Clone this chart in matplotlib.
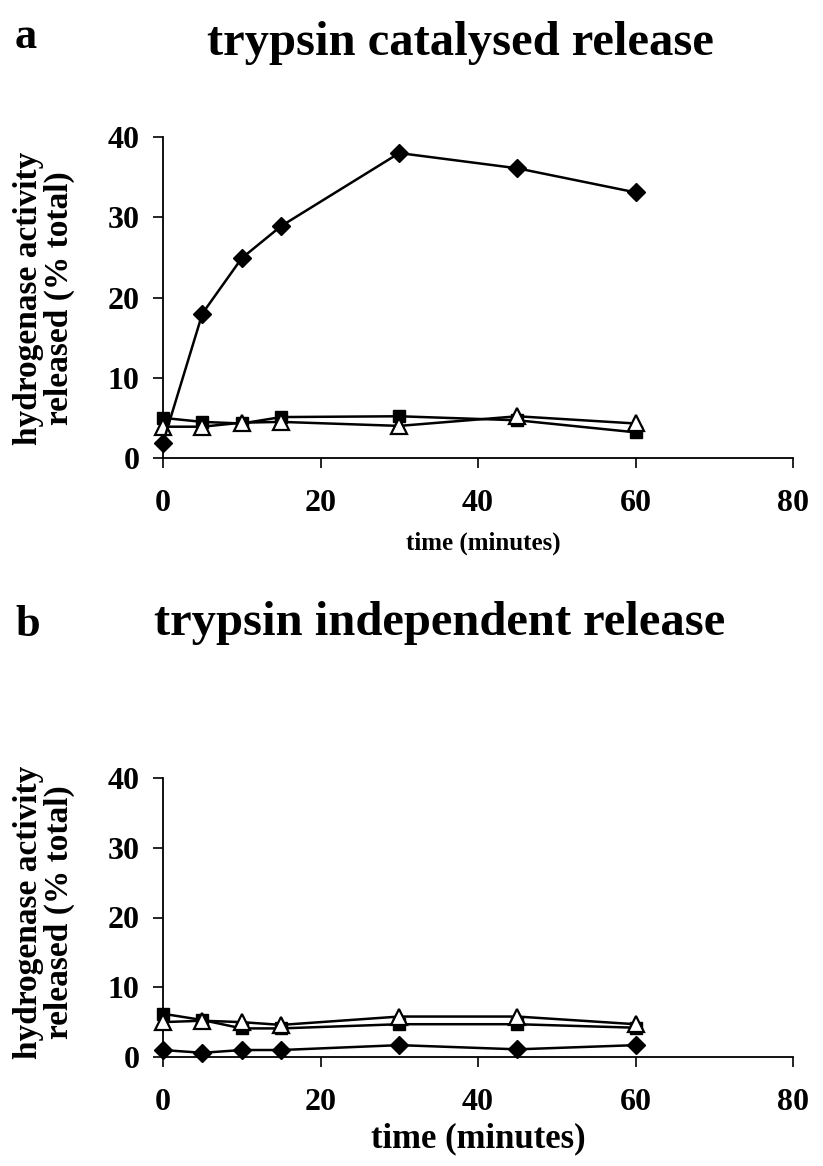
import matplotlib
matplotlib.use("Agg")
import matplotlib.pyplot as plt

plt.rcParams['font.family'] = ['Liberation Serif', 'DejaVu Serif']
plt.rcParams['font.weight'] = 'bold'

time = [0, 5, 10, 15, 30, 45, 60]

# panel a: trypsin catalysed release
a_diamond = [1.9, 18.0, 24.9, 28.9, 38.0, 36.1, 33.1]
a_square = [5.0, 4.5, 4.3, 5.1, 5.2, 4.7, 3.2]
a_triangle = [3.9, 3.9, 4.4, 4.5, 4.0, 5.2, 4.3]

# panel b: trypsin independent release
b_diamond = [1.0, 0.6, 1.0, 1.0, 1.7, 1.1, 1.7]
b_square = [6.2, 5.3, 4.1, 4.1, 4.7, 4.7, 4.2]
b_triangle = [5.0, 5.2, 5.0, 4.6, 5.8, 5.8, 4.7]

x_ticks = [0, 20, 40, 60, 80]
y_ticks = [0, 10, 20, 30, 40]

fig = plt.figure(figsize=(8.23, 11.66), dpi=100)

W, H = 823, 1166
def box(l, t, r, b):
    return [l / W, 1 - b / H, (r - l) / W, (b - t) / H]

ax_a = fig.add_axes(box(163, 137, 793, 458))
ax_b = fig.add_axes(box(163, 778, 793, 1057))

def style(ax, xlabel_size, label_y, label_x):
    for s in ['top', 'right']:
        ax.spines[s].set_visible(False)
    for s in ['left', 'bottom']:
        ax.spines[s].set_linewidth(1.3)
    ax.set_xlim(0, 80)
    ax.set_ylim(0, 40)
    ax.set_xticks(x_ticks)
    ax.set_yticks(y_ticks)
    ax.tick_params(direction='out', length=7, width=1.2, labelsize=23)
    ax.tick_params(axis='x', pad=15)
    ax.tick_params(axis='y', pad=10)
    for lab in ax.get_xticklabels() + ax.get_yticklabels():
        lab.set_fontweight('bold')
    ax.set_xlabel('time (minutes)', fontsize=xlabel_size, fontweight='bold')
    ax.xaxis.set_label_coords(label_x, label_y)

def plot(ax, d, s, t):
    ax.plot(time, s, color='black', lw=1.8, marker='s', ms=8, mfc='black', mec='black', clip_on=False, zorder=3)
    ax.plot(time, t, color='black', lw=1.8, marker='^', ms=11, mfc='white', mec='black', mew=1.6, clip_on=False, zorder=4)
    ax.plot(time, d, color='black', lw=1.8, marker='D', ms=9, mfc='black', mec='black', clip_on=False, zorder=5)

plot(ax_a, a_diamond, a_square, a_triangle)
plot(ax_b, b_diamond, b_square, b_triangle)
style(ax_a, 18, -0.228, 0.508)
style(ax_b, 25, -0.235, 0.5)

ylab = 'hydrogenase activity\nreleased (% total)'
fig.text(44 / W, 1 - 298 / H, ylab, rotation=90, ha='center', va='center',
         fontsize=24, fontweight='bold', linespacing=0.95)
fig.text(44 / W, 1 - 912 / H, ylab, rotation=90, ha='center', va='center',
         fontsize=24, fontweight='bold', linespacing=0.95)

fig.text(15 / W, 1 - 48 / H, 'a', fontsize=32, fontweight='bold', ha='left', va='baseline')
fig.text(460 / W, 1 - 55 / H, 'trypsin catalysed release', fontsize=35, fontweight='bold', ha='center', va='baseline')
fig.text(15 / W, 1 - 636 / H, 'b', fontsize=32, fontweight='bold', ha='left', va='baseline')
fig.text(440 / W, 1 - 635 / H, 'trypsin independent release', fontsize=35, fontweight='bold', ha='center', va='baseline')

fig.savefig('out.png', dpi=100, facecolor='white')
